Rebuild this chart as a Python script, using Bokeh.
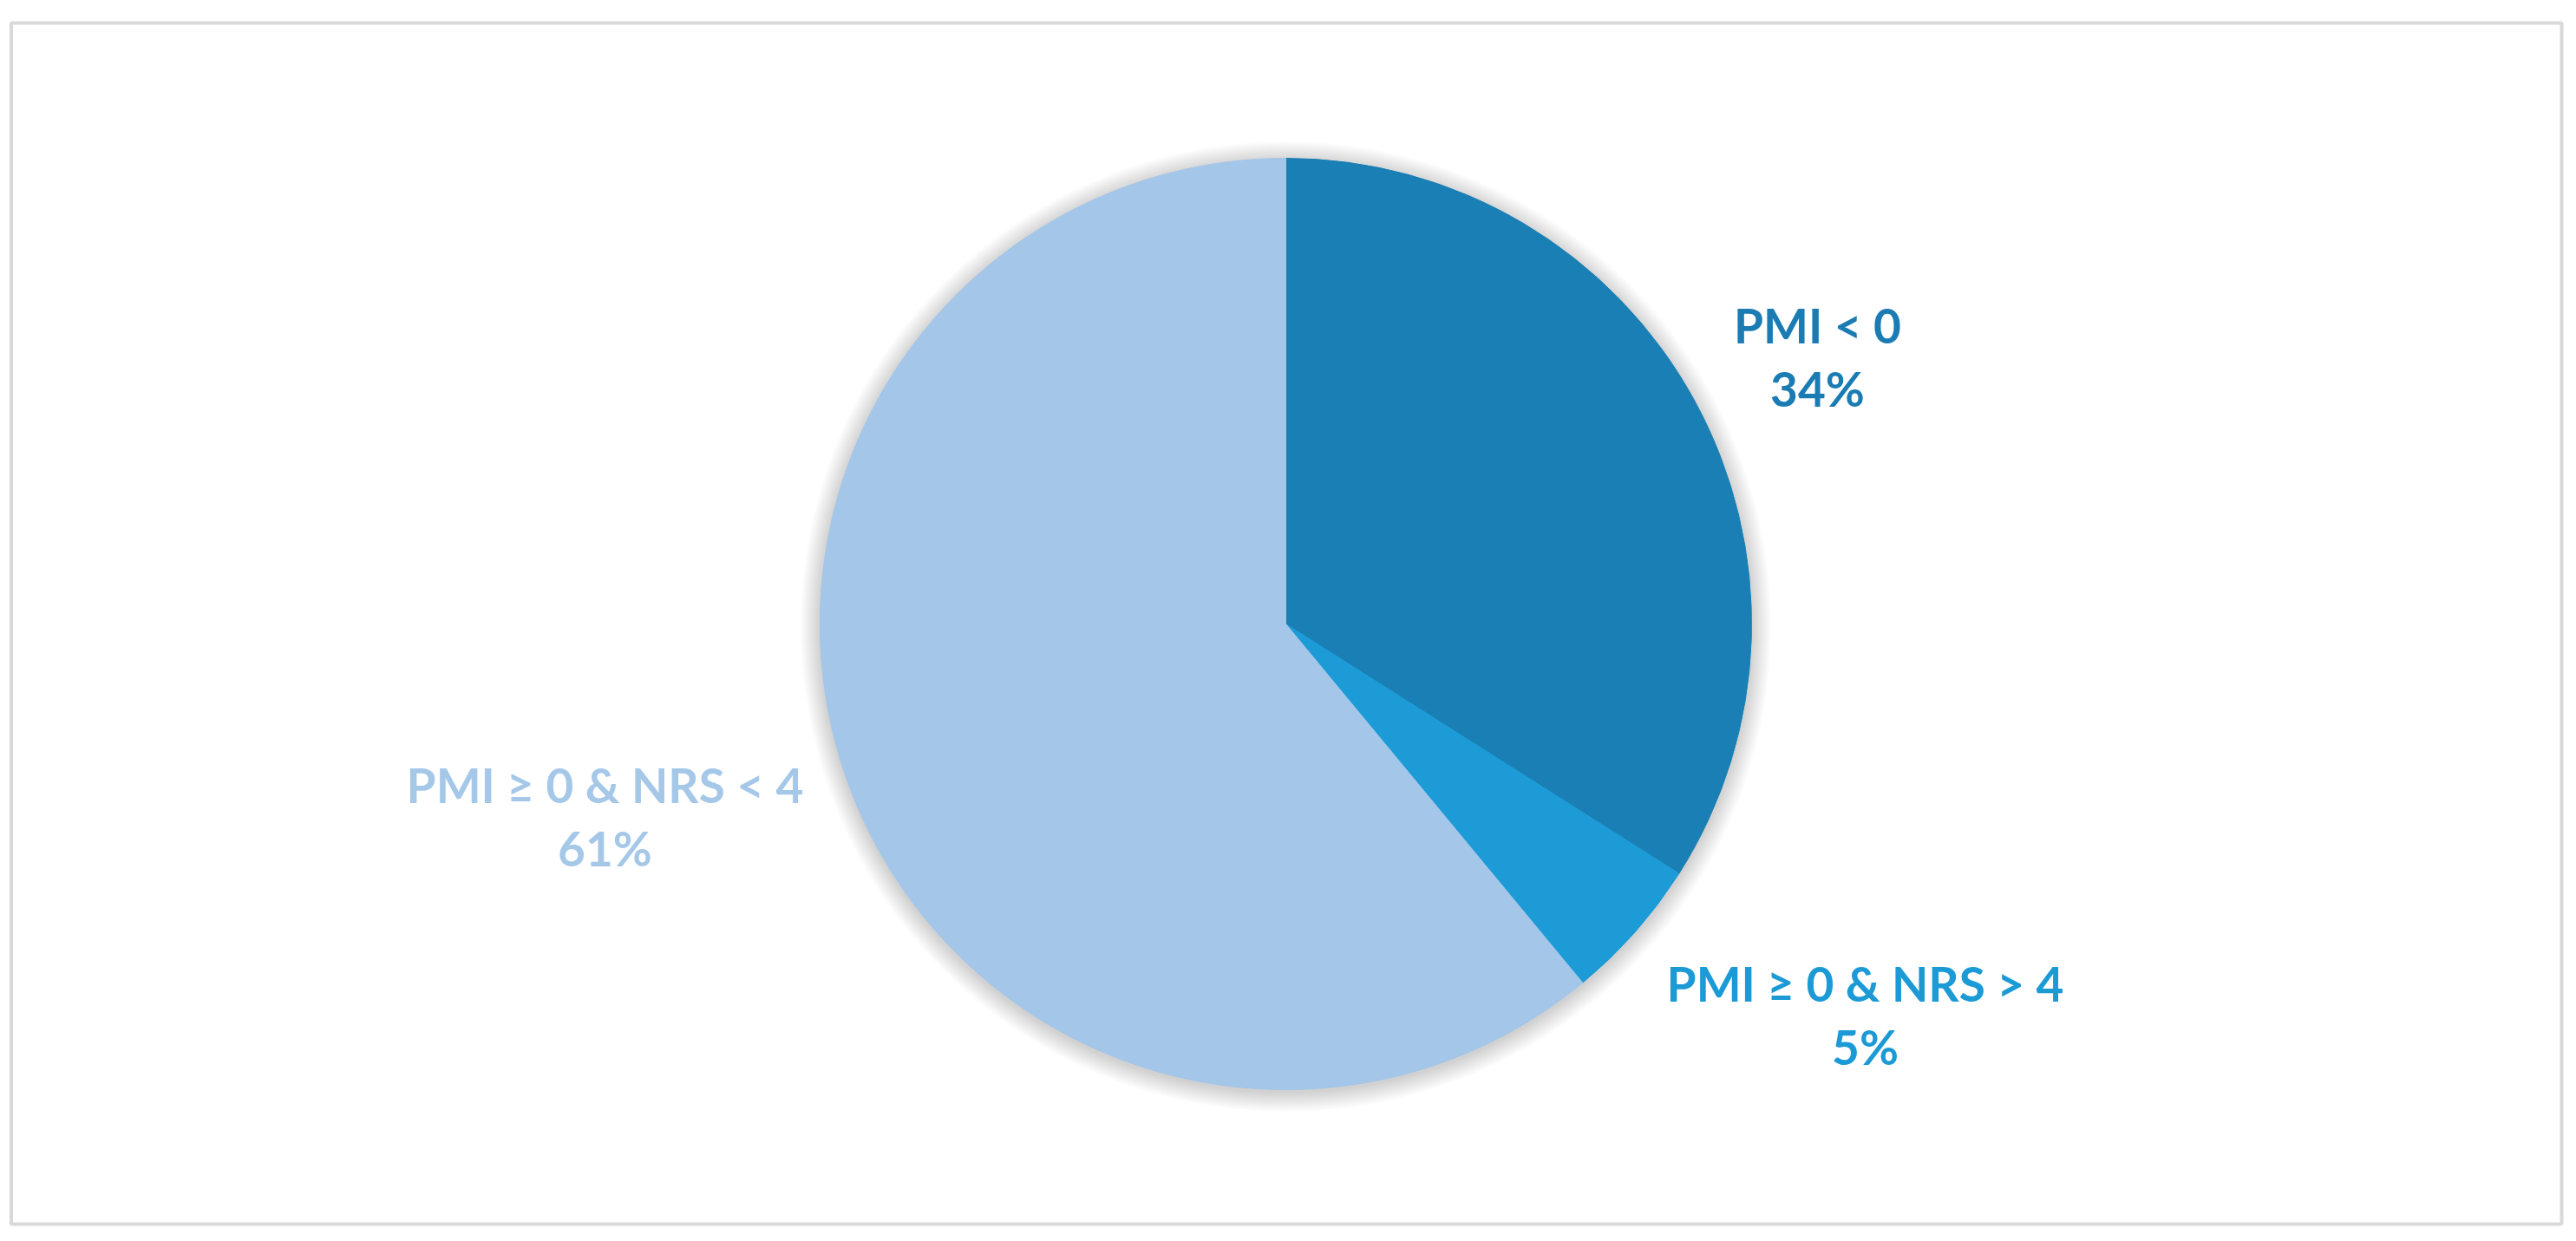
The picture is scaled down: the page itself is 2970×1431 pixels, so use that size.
import math
from bokeh.plotting import figure
from bokeh.models import Range1d, ColumnDataSource
from bokeh.core.properties import value
from bokeh.embed import file_html
from bokeh.resources import INLINE

# ---- data ----
categories = ["PMI < 0", "PMI \u2265 0 & NRS > 4", "PMI \u2265 0 & NRS < 4"]
percent = [34, 5, 61]

# ---- styles / layout ----
slice_colors = ["#197fb4", "#1c9bd7", "#a4c6e8"]
label_colors = ["#1b7cb4", "#1b9ad6", "#a6c8e8"]
label_pos = [(2095, 374), (2150, 1133), (697, 904)]   # screen px (center x, baseline of first line)
line_gap = 73

W, H = 2962, 1423
PAGE_H = H


def sy(y):
    return PAGE_H - y


p = figure(width=W, height=H, output_backend="svg", toolbar_location=None,
           x_range=Range1d(0, W), y_range=Range1d(0, H),
           min_border=0)
p.axis.visible = False
p.grid.visible = False
p.outline_line_color = None
p.background_fill_color = "white"
p.border_fill_color = "white"

# outer frame
p.quad(left=[12.5], right=[2953], top=[sy(26)], bottom=[sy(1411)],
       fill_color=None, line_color="#d9d9d9", line_width=4)

cx, cy, R = 1482, sy(719), 537

# soft shadow
for k in range(1, 24):
    p.circle(x=[cx], y=[cy - 3], radius=R + k, fill_color="black", fill_alpha=0.008,
             line_color=None)

# pie wedges, clockwise from top
total = sum(percent)
starts, ends = [], []
acc = 0.0
for v in percent:
    a0 = math.pi / 2 - 2 * math.pi * acc / total
    acc += v
    a1 = math.pi / 2 - 2 * math.pi * acc / total
    starts.append(a0)
    ends.append(a1)

src = ColumnDataSource(dict(start=starts, end=ends, color=slice_colors))
p.wedge(x=cx, y=cy, radius=R, start_angle="start", end_angle="end",
        direction="clock", fill_color="color", line_color="color", line_width=1,
        source=src)

# labels
for name, v, (lx, ly), col in zip(categories, percent, label_pos, label_colors):
    p.text(x=[lx], y=[sy(ly)], text=[name], text_align="center",
           text_baseline="alphabetic", text_font=value("Lato"),
           text_font_style="bold", text_font_size="55px", text_color=col)
    p.text(x=[lx], y=[sy(ly + line_gap)], text=[f"{v}%"], text_align="center",
           text_baseline="alphabetic", text_font=value("Lato"),
           text_font_style="bold", text_font_size="55px", text_color=col)

open("out.html", "w").write(file_html(p, INLINE))
